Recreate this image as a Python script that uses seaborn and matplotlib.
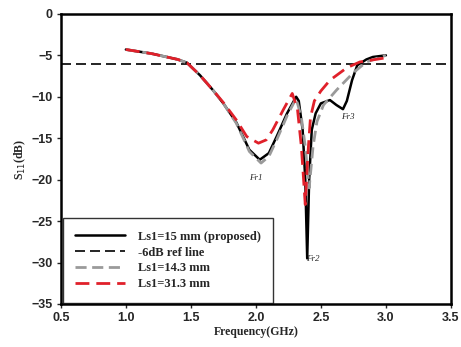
import numpy as np
import pandas as pd
import matplotlib.pyplot as plt
import seaborn as sns

# === Data ===
freq_a = [1.0, 1.2, 1.4, 1.47, 1.57, 1.67, 1.75, 1.85, 1.95, 2.03, 2.1, 2.16, 2.24, 2.31,
          2.33, 2.36, 2.38, 2.395, 2.41, 2.43, 2.46, 2.5, 2.57, 2.62, 2.67, 2.70, 2.74, 2.78,
          2.85, 2.9, 3.0]
s11_a = [-4.3, -4.8, -5.5, -5.9, -7.4, -9.2, -10.8, -13.1, -16.4, -17.6, -16.8, -14.8, -12.0, -10.0,
         -10.5, -14.0, -20.0, -29.5, -20.0, -14.0, -12.0, -10.8, -10.4, -11.0, -11.5, -10.5, -8.0, -6.2,
         -5.5, -5.2, -5.0]

freq_b = [1.0, 1.2, 1.4, 1.47, 1.57, 1.67, 1.75, 1.85, 1.95, 2.04, 2.1, 2.16, 2.24, 2.31,
          2.35, 2.38, 2.41, 2.44, 2.47, 2.52, 2.62, 2.75, 2.85, 3.0]
s11_b = [-4.3, -4.8, -5.5, -5.9, -7.4, -9.2, -10.8, -13.2, -16.6, -18.0, -17.2, -15.2, -12.3, -10.2,
         -12.5, -16.0, -21.0, -16.0, -13.0, -11.0, -9.2, -7.1, -5.8, -5.0]

freq_c = [1.0, 1.2, 1.4, 1.47, 1.57, 1.67, 1.75, 1.85, 1.93, 2.02, 2.08, 2.13, 2.21, 2.28,
          2.32, 2.35, 2.38, 2.40, 2.42, 2.45, 2.5, 2.57, 2.7, 2.8, 3.0]
s11_c = [-4.3, -4.8, -5.5, -5.9, -7.4, -9.2, -10.7, -12.8, -14.8, -15.6, -15.2, -14.0, -11.6, -9.6,
         -11.5, -16.0, -23.0, -17.0, -12.5, -10.5, -9.3, -8.0, -6.5, -5.8, -5.3]

labels = ["Ls1=15 mm (proposed)", "-6dB ref line", "Ls1=14.3 mm", "Ls1=31.3 mm"]
ref_level = -6

df_a = pd.DataFrame({"f": freq_a, "s": s11_a})
df_b = pd.DataFrame({"f": freq_b, "s": s11_b})
df_c = pd.DataFrame({"f": freq_c, "s": s11_c})
df_ref = pd.DataFrame({"f": [0.5, 3.5], "s": [ref_level, ref_level]})

sns.set_style("ticks")
plt.rcParams['font.family'] = ['Liberation Sans', 'DejaVu Sans']

fig = plt.figure(figsize=(4.61, 3.47), dpi=100)
ax = fig.add_axes([0.132, 0.124, 0.846, 0.836])

sns.lineplot(data=df_a, x="f", y="s", ax=ax, color="black", lw=1.8, label=labels[0], sort=False)
sns.lineplot(data=df_ref, x="f", y="s", ax=ax, color="black", lw=1.2, label=labels[1], sort=False)
ax.lines[-1].set_dashes([6, 3])
sns.lineplot(data=df_b, x="f", y="s", ax=ax, color="#9a9a9a", lw=2.0, label=labels[2], sort=False)
ax.lines[-1].set_dashes([4, 2])
sns.lineplot(data=df_c, x="f", y="s", ax=ax, color="#e0202a", lw=2.0, label=labels[3], sort=False)
ax.lines[-1].set_dashes([5, 2.5])

ax.set_xlim(0.5, 3.5)
ax.set_ylim(-35, 0)
ax.set_xticks(np.arange(0.5, 3.51, 0.5))
ax.set_xticklabels([f"{v:.1f}" for v in np.arange(0.5, 3.51, 0.5)])
ax.set_yticks(np.arange(-35, 1, 5))
for t in ax.get_xticklabels() + ax.get_yticklabels():
    t.set_fontweight("bold")
    t.set_fontsize(9)
ax.tick_params(length=3, width=1, pad=3)
for sp in ax.spines.values():
    sp.set_visible(True)
    sp.set_linewidth(1.8)
    sp.set_color("black")

serif = ['Liberation Serif', 'DejaVu Serif']
ax.set_xlabel("Frequency(GHz)", family=serif, fontweight="bold", fontsize=8.5, labelpad=1)
ax.set_ylabel("S$_{11}$(dB)", family=serif, fontweight="bold", fontsize=8.5, labelpad=2)

ax.text(2.0, -19.8, "Fr1", family=serif, style="italic", fontsize=6.5, ha="center", va="center")
ax.text(2.44, -29.6, "Fr2", family=serif, style="italic", fontsize=6.5, ha="center", va="center")
ax.text(2.71, -12.4, "Fr3", family=serif, style="italic", fontsize=6.5, ha="center", va="center")

leg = ax.legend(loc="lower left", bbox_to_anchor=(0.005, 0.005), frameon=True, fancybox=False,
                prop={"family": serif, "size": 9.0, "weight": "bold"}, handlelength=4.0,
                borderpad=1.0, labelspacing=0.3, borderaxespad=0.0, handletextpad=1.0)
leg.get_frame().set_edgecolor("black")
leg.get_frame().set_linewidth(1.0)

plt.savefig("out.png", dpi=100)
